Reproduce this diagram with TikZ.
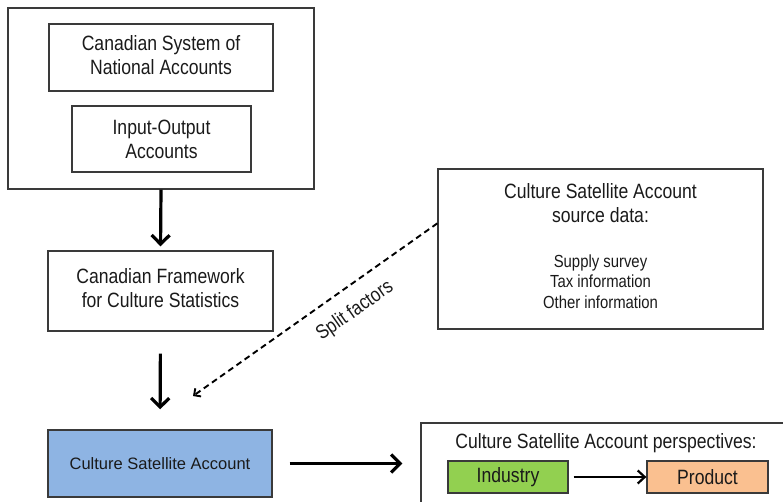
\documentclass[tikz,border=0pt]{standalone}
\usepackage{fontspec}
\setmainfont{Liberation Sans}[FakeStretch=0.85]
\newfontfamily\widefont{Liberation Sans}
\usetikzlibrary{arrows.meta,calc}
\definecolor{boxgray}{HTML}{3A3A3A}
\definecolor{csablue}{HTML}{8EB4E3}
\definecolor{indgreen}{HTML}{92D050}
\definecolor{prodorange}{HTML}{FAC090}
\definecolor{txt}{HTML}{1A1A1A}
\begin{document}
\begin{tikzpicture}[x=1pt,y=-1pt,
  box/.style={draw=boxgray, line width=1.3pt, inner sep=0pt, align=center, text=txt,
    font=\fontsize{20.7}{24}\selectfont},
  bigarrow/.style={line width=3.2pt, -{Straight Barb[length=9pt,width=18pt]}},
  splitarrow/.style={line width=1.9pt, dash pattern=on 6pt off 4pt,
    -{Straight Barb[length=5pt,width=10pt]}},
  smallarrow/.style={line width=2.2pt, -{Straight Barb[length=7pt,width=13pt]}},
  lbl/.style={inner sep=0pt, text=txt}
]
\useasboundingbox (0,0) rectangle (783,502);
\clip (0,0) rectangle (783,502);

\node[box, minimum width=306pt, minimum height=181pt] (outer) at (161,98.5) {};
\node[box, minimum width=224pt, minimum height=67pt] (sna) at (161,57.5)
  {Canadian System of\\National Accounts\rule[-5pt]{0pt}{5pt}};
\node[box, minimum width=179pt, minimum height=66pt] (io) at (161.5,139)
  {Input-Output\\Accounts};
\node[box, minimum width=225pt, minimum height=80pt] (fw) at (160.5,291)
  {Canadian Framework\\for Culture Statistics\rule[-6pt]{0pt}{6pt}};
\node[box, minimum width=325pt, minimum height=160pt] (src) at (600.5,249) {};
\node[lbl, align=center, font=\fontsize{20.7}{24}\selectfont, anchor=base]
  (srctitle) at (600.5,223) {Culture Satellite Account\\source data:};
\node[lbl, align=center, font=\fontsize{17.5}{20}\selectfont, anchor=base]
  (srclist) at (600.5,308) {Supply survey\\Tax information\\Other information};
\node[box, fill=csablue, minimum width=224pt, minimum height=67pt,
  font=\widefont\fontsize{16.5}{20}\selectfont] (csa) at (160,463.5)
  {Culture Satellite Account};
\node[box, minimum width=379pt, minimum height=97pt] (persp) at (610.5,471.5) {};
\node[lbl, font=\fontsize{20.7}{24}\selectfont] (ptitle) at (606,443)
  {Culture Satellite Account perspectives:};
\node[box, fill=indgreen, minimum width=120pt, minimum height=32pt] (ind) at (508,477)
  {Industry};
\node[box, fill=prodorange, minimum width=121pt, minimum height=32pt] (prod) at (707.5,477)
  {Product};

\draw[bigarrow, shorten >=4pt] (outer.south) -- (fw.north);
\draw[bigarrow, shorten <=22pt, shorten >=20pt] (fw.south) -- (csa.north);
\draw[bigarrow, shorten <=17pt, shorten >=18pt] (csa.east) -- (csa.east -| persp.west);
\draw[smallarrow, shorten <=5pt] (ind.east) -- (prod.west);

\coordinate (splitend) at (193,396);
\draw[splitarrow] ($(src.north west)+(0,55)$) -- (splitend);
\node[lbl, rotate=35, font=\fontsize{20}{22}\selectfont] (split) at (355,311) {Split factors};
\end{tikzpicture}
\end{document}
